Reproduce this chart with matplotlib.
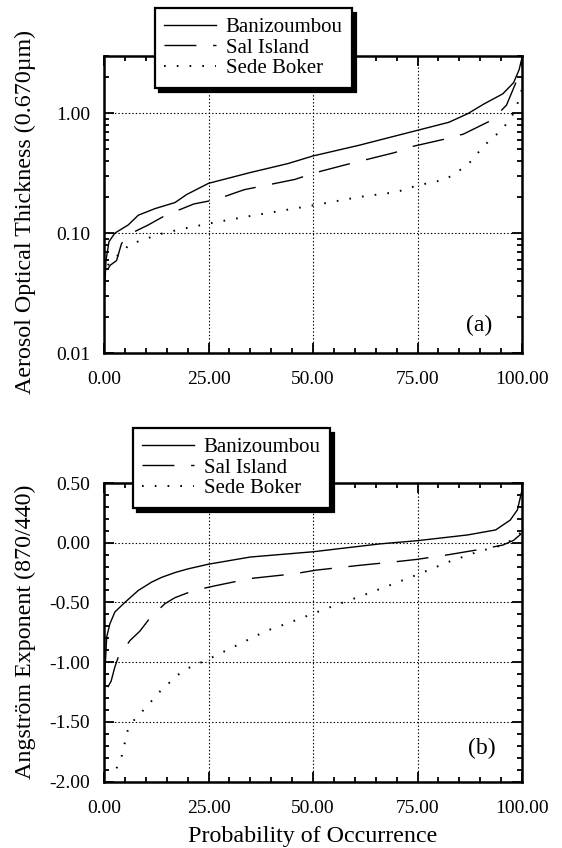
import matplotlib
matplotlib.use("Agg")
import matplotlib.pyplot as plt
from matplotlib.ticker import MultipleLocator, FixedLocator, LogLocator, FormatStrFormatter, NullFormatter
import numpy as np

plt.rcParams['font.family'] = ['Liberation Serif', 'DejaVu Serif']
plt.rcParams['lines.scale_dashes'] = False

# ---- data (percentile vs value) ----
# (a) aerosol optical thickness at 0.670 um
ban_aot_p = [0.0, 0.5, 1.2, 2.6, 5.8, 8.2, 12.2, 17.0, 19.8, 25.0, 35.0, 44.0, 50.0, 61.0,
             70.0, 75.0, 82.5, 87.0, 91.0, 95.4, 98.0, 99.3, 100.0]
ban_aot_v = [0.028, 0.06, 0.085, 0.10, 0.117, 0.141, 0.16, 0.18, 0.21, 0.26, 0.32, 0.38,
             0.44, 0.54, 0.65, 0.72, 0.84, 0.99, 1.2, 1.45, 1.8, 2.3, 2.9]

sal_aot_p = [0.9, 1.5, 3.0, 4.2, 6.6, 10.6, 14.6, 21.5, 26.7, 33.5, 45.6, 50.7, 57.6, 69.6, 74.0,
             81.7, 86.0, 92.9, 96.3, 98.9, 100.0]
sal_aot_v = [0.05, 0.054, 0.059, 0.082, 0.10, 0.117, 0.14, 0.175, 0.19, 0.23, 0.28, 0.32, 0.37,
             0.47, 0.53, 0.61, 0.67, 0.88, 1.17, 1.93, 2.0]

sed_aot_p = [0.9, 2.5, 4.6, 6.2, 9.4, 12.2, 18.0, 25.0, 33.5, 44.0, 50.7, 61.0, 70.0, 75.0, 81.7,
             87.0, 91.0, 95.4, 98.0, 99.3, 100.0]
sed_aot_v = [0.054, 0.062, 0.07, 0.082, 0.087, 0.096, 0.107, 0.12, 0.136, 0.157, 0.172, 0.2, 0.22,
             0.25, 0.28, 0.37, 0.54, 0.74, 1.0, 1.3, 1.6]

# (b) Angstrom exponent 870/440
ban_ae_p = [0.0, 0.2, 0.64, 1.4, 2.6, 5.0, 8.2, 11.4, 13.8, 17.0, 20.0, 25.0, 35.0, 50.0, 66.0,
            75.0, 87.0, 93.7, 97.2, 98.9, 100.0]
ban_ae_v = [-1.5, -1.1, -0.79, -0.68, -0.58, -0.50, -0.40, -0.33, -0.29, -0.25, -0.22, -0.18,
            -0.12, -0.076, -0.01, 0.017, 0.065, 0.107, 0.19, 0.275, 0.44]

sal_ae_p = [0.9, 1.7, 2.6, 3.4, 6.2, 8.6, 11.0, 14.6, 17.0, 21.5, 26.7, 35.0, 45.6, 50.7, 61.0,
            69.6, 74.8, 82.5, 90.0, 95.4, 98.0, 100.0]
sal_ae_v = [-1.21, -1.16, -1.04, -0.96, -0.82, -0.74, -0.63, -0.51, -0.46, -0.40, -0.36, -0.30,
            -0.26, -0.23, -0.19, -0.16, -0.14, -0.10, -0.056, -0.02, 0.02, 0.08]

sed_ae_p = [3.0, 4.3, 5.6, 7.3, 9.5, 13.8, 18.9, 25.0, 30.0, 38.7, 44.7, 53.3, 62.8, 69.6, 74.8,
            82.5, 89.4, 95.4, 98.9, 100.0]
sed_ae_v = [-1.89, -1.78, -1.58, -1.48, -1.40, -1.23, -1.07, -0.975, -0.89, -0.74, -0.665, -0.55,
            -0.43, -0.34, -0.27, -0.16, -0.076, -0.02, 0.05, 0.10]

names = ['Banizoumbou', 'Sal Island', 'Sede Boker']

fig = plt.figure(figsize=(5.62, 8.48), dpi=100)
ax1 = fig.add_axes([104 / 562, 1 - 353 / 848, 418 / 562, 297 / 848])
ax2 = fig.add_axes([104 / 562, 1 - 781.5 / 848, 418 / 562, 298.5 / 848])


def draw(ax, ban, sal, sed):
    ax.plot(ban[0], ban[1], color='k', lw=1.0, label=names[0])
    l2, = ax.plot(sal[0], sal[1], color='k', lw=1.0, label=names[1])
    l2.set_dashes((23, 12))
    l3, = ax.plot(sed[0], sed[1], color='k', lw=1.4, label=names[2])
    l3.set_dashes((1.2, 8.0))


def style(ax):
    ax.set_xlim(0, 100)
    ax.xaxis.set_major_locator(MultipleLocator(25))
    ax.xaxis.set_minor_locator(MultipleLocator(5))
    ax.xaxis.set_major_formatter(FormatStrFormatter('%.2f'))
    ax.tick_params(which='both', direction='in', top=True, right=True, width=1.3)
    ax.tick_params(which='major', length=7)
    ax.tick_params(which='minor', length=3.5)
    ax.tick_params(axis='x', which='both', pad=13, labelsize=14)
    ax.tick_params(axis='y', which='both', pad=10, labelsize=14)
    for s in ax.spines.values():
        s.set_linewidth(1.8)
    ax.grid(True, which='major', color='k', linestyle=(0, (1, 1.5)), linewidth=0.8)


draw(ax1, (ban_aot_p, ban_aot_v), (sal_aot_p, sal_aot_v), (sed_aot_p, sed_aot_v))
ax1.set_yscale('log')
ax1.set_ylim(0.01, 3.0)
ax1.yaxis.set_major_locator(FixedLocator([0.01, 0.1, 1.0]))
ax1.yaxis.set_minor_locator(LogLocator(base=10, subs=np.arange(2, 10)))
ax1.yaxis.set_major_formatter(FormatStrFormatter('%.2f'))
ax1.yaxis.set_minor_formatter(NullFormatter())
style(ax1)
ax1.set_ylabel('Aerosol Optical Thickness (0.670µm)', fontsize=17.3)
ax1.yaxis.set_label_coords(-0.163, 0.476)
ax1.text(0.897, 0.094, '(a)', transform=ax1.transAxes, ha='center', va='center', fontsize=17)

draw(ax2, (ban_ae_p, ban_ae_v), (sal_ae_p, sal_ae_v), (sed_ae_p, sed_ae_v))
ax2.set_ylim(-2.0, 0.5)
ax2.yaxis.set_major_locator(MultipleLocator(0.5))
ax2.yaxis.set_minor_locator(MultipleLocator(0.1))
ax2.yaxis.set_major_formatter(FormatStrFormatter('%.2f'))
style(ax2)
ax2.set_ylabel('Angström Exponent (870/440)', fontsize=17.3)
ax2.yaxis.set_label_coords(-0.163, 0.5)
ax2.set_xlabel('Probability of Occurrence', fontsize=17.3)
ax2.xaxis.set_label_coords(0.5, -0.15)
ax2.xaxis.label.set_va('top')
ax2.text(0.904, 0.112, '(b)', transform=ax2.transAxes, ha='center', va='center', fontsize=17)

for ax, anchor in [(ax1, (155 / 562, 1 - 8 / 848)), (ax2, (133 / 562, 1 - 428 / 848))]:
    leg = ax.legend(loc='upper left', bbox_to_anchor=anchor, bbox_transform=fig.transFigure,
                    fontsize=15, frameon=True, fancybox=False, framealpha=1,
                    edgecolor='k', handlelength=2.5, handletextpad=0.45, labelspacing=0.05,
                    borderpad=0.45, borderaxespad=0,
                    shadow={'color': 'k', 'alpha': 1, 'ox': 3, 'oy': -3.5})
    leg.get_frame().set_linewidth(1.6)
    leg.set_zorder(10)

fig.savefig('out.png', dpi=100)
